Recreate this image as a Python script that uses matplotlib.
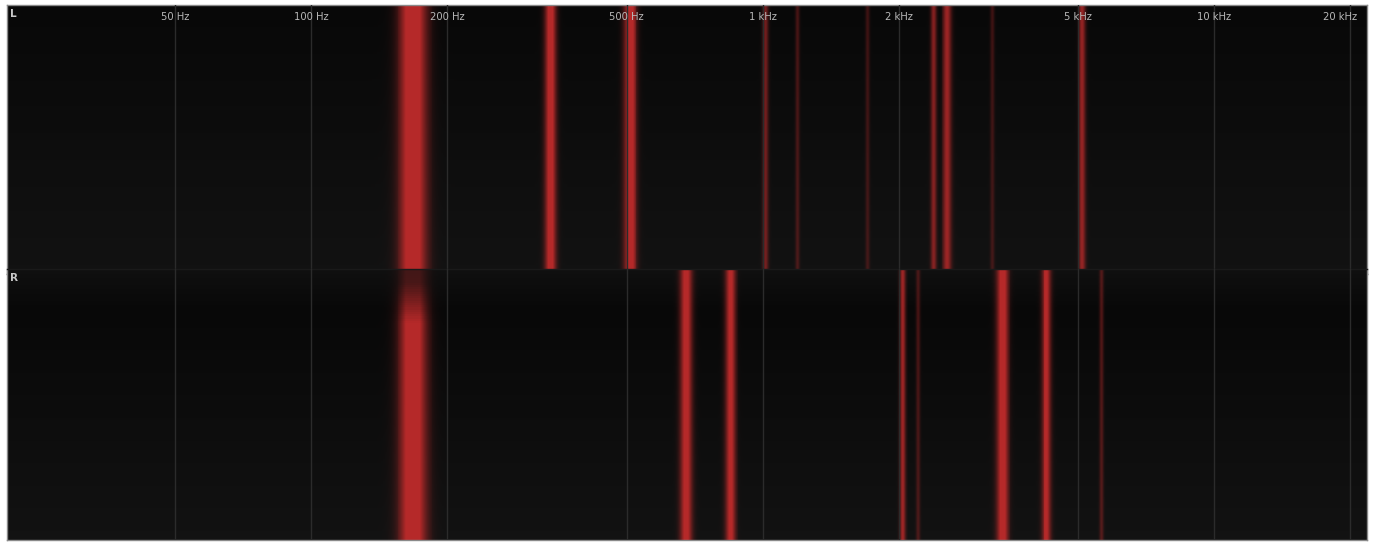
import numpy as np
import matplotlib
matplotlib.use("Agg")
import matplotlib.pyplot as plt
from matplotlib.ticker import FixedLocator, NullLocator

# Spectrum view, two channels, log frequency axis
f_min, f_max = 21.2, 21800

tick_freqs = [50, 100, 200, 500, 1000, 2000, 5000, 10000, 20000]
tick_labels = ["50 Hz", "100 Hz", "200 Hz", "500 Hz", "1 kHz", "2 kHz", "5 kHz", "10 kHz", "20 kHz"]

# Left channel peaks: centre frequency (Hz), level, width (octaves)
left_freqs = [168, 339, 509, 1013, 1193, 1705, 2389, 2565, 3227, 5106]
left_levels = [1.3, 1.15, 1.15, 0.6, 0.35, 0.3, 0.7, 0.85, 0.3, 0.8]
left_widths = [0.068, 0.028, 0.032, 0.015, 0.011, 0.011, 0.015, 0.022, 0.011, 0.018]

# Right channel peaks
right_freqs = [168, 677, 848, 2039, 2212, 3396, 4250, 5625]
right_levels = [1.3, 1.1, 1.05, 0.85, 0.35, 1.15, 1.05, 0.4]
right_widths = [0.068, 0.030, 0.026, 0.015, 0.011, 0.030, 0.024, 0.011]

# the 168 Hz peak fades in at the top of the right channel
fade_pos = [0.0, 0.05, 0.2, 1.0]
fade_val = [0.3, 0.35, 1.0, 1.0]

red = np.array([0.71, 0.16, 0.16])

edges = np.geomspace(f_min, f_max, 1401)
centres = np.sqrt(edges[:-1] * edges[1:])
n_rows = 120
y_edges = np.linspace(0, 1, n_rows + 1)
y_mid = 0.5 * (y_edges[:-1] + y_edges[1:])  # 0 = top of panel


def band_alpha(freqs, levels, widths, fade_first=False):
    a = np.zeros((n_rows, len(centres)))
    for i, (f, lv, w) in enumerate(zip(freqs, levels, widths)):
        d = np.log2(centres / f)
        prof = np.clip(lv * np.exp(-0.5 * (d / w) ** 2), 0, 1)
        env = np.ones(n_rows)
        if fade_first and i == 0:
            env = np.interp(y_mid, fade_pos, fade_val)
        a = np.maximum(a, env[:, None] * prof[None, :])
    return a


def panel_rgb(alpha, bg_pos, bg_val):
    bg = np.interp(y_mid, bg_pos, bg_val)
    bg_rgb = np.repeat(bg[:, None], len(centres), axis=1)[..., None] * np.ones(3)
    return bg_rgb * (1 - alpha[..., None]) + red * alpha[..., None]


W, H = 1373, 543
fig = plt.figure(figsize=(W / 100, H / 100), dpi=100, facecolor="white")
x0, x1 = 7 / W, 1367 / W
ax_l = fig.add_axes([x0, (H - 274) / H, x1 - x0, 269 / H])
ax_r = fig.add_axes([x0, 3 / H, x1 - x0, 271 / H])

panels = [
    (ax_l, panel_rgb(band_alpha(left_freqs, left_levels, left_widths),
                     [0, 1], [0.03, 0.07]), "L"),
    (ax_r, panel_rgb(band_alpha(right_freqs, right_levels, right_widths, True),
                     [0, 0.15, 1], [0.06, 0.03, 0.07]), "R"),
]

for ax, rgb, name in panels:
    ax.pcolormesh(edges, 1 - y_edges, rgb, shading="flat")
    ax.set_xscale("log")
    ax.set_xlim(f_min, f_max)
    ax.set_ylim(0, 1)
    ax.xaxis.set_major_locator(FixedLocator(tick_freqs))
    ax.xaxis.set_minor_locator(NullLocator())
    ax.set_yticks([])
    ax.tick_params(axis="x", length=0, labelbottom=False)
    ax.grid(True, axis="x", color="#2b2b2b", linewidth=1)
    ax.set_axisbelow(False)
    for s in ax.spines.values():
        s.set_color("#8a8a8a")
        s.set_linewidth(1)
    ax.text(0.002, 0.985, name, transform=ax.transAxes, ha="left", va="top",
            color="#c8c8c8", fontsize=7.5, fontweight="bold")

ax_l.spines["bottom"].set_color("#1a1a1a")
ax_r.spines["top"].set_color("#1a1a1a")

for i, (f, lab) in enumerate(zip(tick_freqs, tick_labels)):
    shift = -10 if i == len(tick_freqs) - 1 else 0  # keep last label inside
    ax_l.annotate(lab, (f, 0.955), xycoords=ax_l.get_xaxis_transform(),
                  xytext=(shift, 0), textcoords="offset pixels",
                  ha="center", va="center", color="#b8b8b8", fontsize=7.2)

fig.savefig("out.png", dpi=100, facecolor="white")
